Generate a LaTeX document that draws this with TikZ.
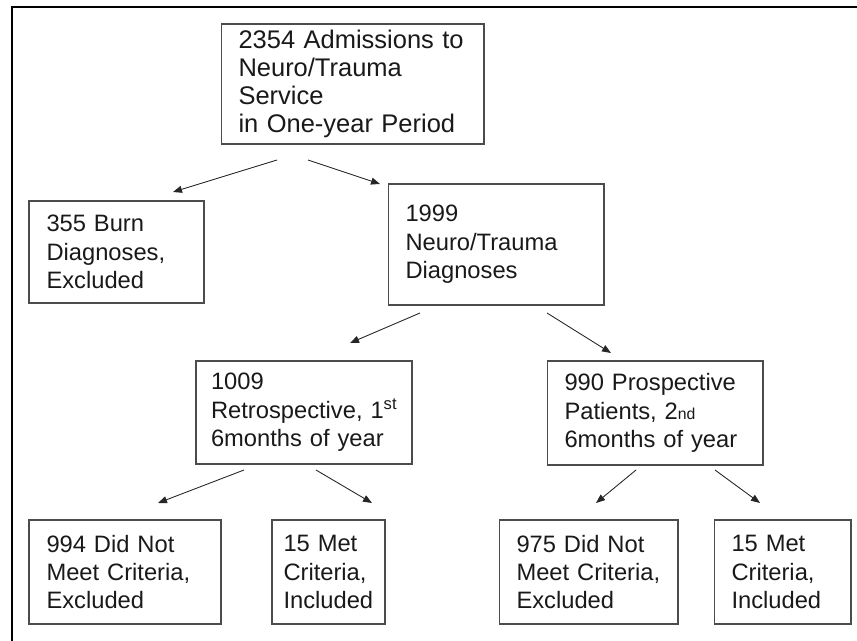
\documentclass[tikz,border=0pt]{standalone}
\usepackage{fontspec}
\setmainfont{Liberation Sans}
\usepackage{tikz}
\usetikzlibrary{arrows.meta}

\begin{document}
\begin{tikzpicture}[x=0.02cm, y=-0.02cm, font=\fontsize{13.5}{16.2}\selectfont,
  box/.style={draw=black!70, line width=0.6pt, align=left, text=black!90,
    inner xsep=0.35cm, inner ysep=0pt},
  arr/.style={draw=black!85, line width=0.5pt, -{Triangle[length=1.8mm, width=1.4mm]}}]
\useasboundingbox (0,0) rectangle (857,641);
\draw[line width=1.2pt] (12,641) -- (12,7) -- (857,7);

% first level
\node[box, font=\fontsize{14.5}{15.8}\selectfont, text width=4.56cm, minimum height=2.4cm] (admit) at (352.5,84)
  {2354 Admissions to\\Neuro/Trauma\\Service\\in One-year Period};
\node[box, text width=2.8cm, minimum height=2.04cm] (burn) at (116.5,252)
  {355 Burn\\Diagnoses,\\Excluded};
\node[box, text width=3.62cm, minimum height=2.42cm] (neuro) at (496,244.5)
  {1999\\Neuro/Trauma\\Diagnoses};

% second level
\node[box, inner xsep=0.3cm, text width=3.72cm, minimum height=2.06cm] (retro) at (304,412.5)
  {1009\\\mbox{Retrospective, 1\textsuperscript{st}}\\6months of year};
\node[box, text width=3.62cm, minimum height=2.08cm] (prosp) at (655,413)
  {990 Prospective\\Patients, 2{\fontsize{9}{9}\selectfont nd}\\6months of year};

% bottom row
\node[box, text width=3.14cm, minimum height=2.08cm] (retroout) at (125,572)
  {994 Did Not\\Meet Criteria,\\Excluded};
\node[box, inner xsep=0.23cm, text width=1.8cm, minimum height=2.08cm] (retroin) at (328.5,572)
  {15 Met\\Criteria,\\Included};
\node[box, text width=2.88cm, minimum height=2.08cm] (prospout) at (588.5,572)
  {975 Did Not\\Meet Criteria,\\Excluded};
\node[box, text width=2.04cm, minimum height=2.08cm] (prospin) at (782.5,572)
  {15 Met\\Criteria,\\Included};

% arrows
\coordinate (a1s) at (277,160); \coordinate (a1e) at (173,192);
\coordinate (a2s) at (308,160); \coordinate (a2e) at (380,184);
\coordinate (a3s) at (420,313); \coordinate (a3e) at (350,343);
\coordinate (a4s) at (547,313); \coordinate (a4e) at (611,353);
\coordinate (a5s) at (244,470); \coordinate (a5e) at (158,503);
\coordinate (a6s) at (316,470); \coordinate (a6e) at (372,503);
\coordinate (a7s) at (636,470); \coordinate (a7e) at (596,503);
\coordinate (a8s) at (715,470); \coordinate (a8e) at (760,503);
\foreach \i in {1,...,8}
  \draw[arr] (a\i s) -- (a\i e);
\end{tikzpicture}
\end{document}
